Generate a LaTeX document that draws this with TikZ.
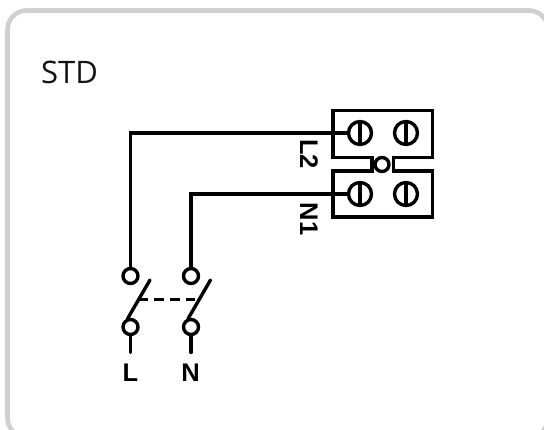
\documentclass[tikz,border=0pt]{standalone}
\usepackage{fontspec}
\setmainfont{Open Sans}
\setsansfont{Liberation Sans}
\definecolor{framegray}{RGB}{208,208,208}
\tikzset{
  wire/.style={line width=3.4pt, line cap=round, line join=miter},
  term/.style={circle, draw, line width=3.4pt, minimum size=15pt, inner sep=0pt, fill=white},
  screw/.style={circle, draw, line width=3.4pt, minimum size=23pt, inner sep=0pt},
  lbl/.style={font=\sffamily\bfseries\fontsize{25.5}{25.5}\selectfont, inner sep=0pt}
}
\begin{document}
\begin{tikzpicture}[x=1pt,y=-1pt,line join=miter]
  \useasboundingbox (0,0) rectangle (544,430);
  \begin{scope}
    \clip (0,0) rectangle (544,430);
    \draw [framegray, line width=4.6pt, rounded corners=19pt] (7.5,10.5) -- (548,10.5) -- (548,437) -- (7.5,437) -- cycle;
  \end{scope}
  \node (title) [anchor=west, inner sep=0pt, font=\fontsize{31}{31}\selectfont, text=black!92] at (41,72) {STD};

  % terminal block
  \draw [wire, line cap=butt] (372,157.5) -- (333,157.5) -- (333,110.5) -- (432.5,110.5) -- (432.5,157.5) -- (393.5,157.5) -- (393.5,171) -- (432.5,171) -- (432.5,217) -- (333,217) -- (333,171) -- (372,171) -- cycle;
  \node (link) [term, minimum size=14pt] at (382,164.5) {};
  \node (a) [screw] at (360,133) {};
  \node (b) [screw] at (406,133) {};
  \node (c) [screw] at (360,194) {};
  \node (d) [screw] at (406,194) {};
  \foreach \nm in {a,b,c,d} {
    \draw [wire, line cap=butt] (\nm.north) -- (\nm.south);
  }
  \node (ltwo) [lbl, rotate=-90] at (309,154) {L2};
  \node (none) [lbl, rotate=-90] at (309,219) {N1};

  % switch
  \node (topl) [term] at (130.5,276) {};
  \node (topn) [term] at (191,276) {};
  \node (botl) [term] at (130.5,327) {};
  \node (botn) [term] at (191,327) {};
  \draw [wire] (a.west) -- (130.5,133) -- (topl.north);
  \draw [wire] (c.west) -- (191,194) -- (topn.north);
  \coordinate (endl) at (130.5,352.5);
  \coordinate (endn) at (191,352.5);
  \coordinate (tipl) at (150,280);
  \coordinate (tipn) at (210.5,280);
  \draw [wire] (botl.south) -- (endl);
  \draw [wire] (botn.south) -- (endn);
  \draw [wire] (botl.north) ++(-3,1) -- (tipl);
  \draw [wire] (botn.north) ++(-3,1) -- (tipn);
  \draw [wire, line cap=butt, dash pattern=on 10pt off 6pt] (138,299.5) -- (195,299.5);
  \node (ll) [lbl] at (130.5,373) {L};
  \node (ln) [lbl] at (190.5,373) {N};
\end{tikzpicture}
\end{document}
